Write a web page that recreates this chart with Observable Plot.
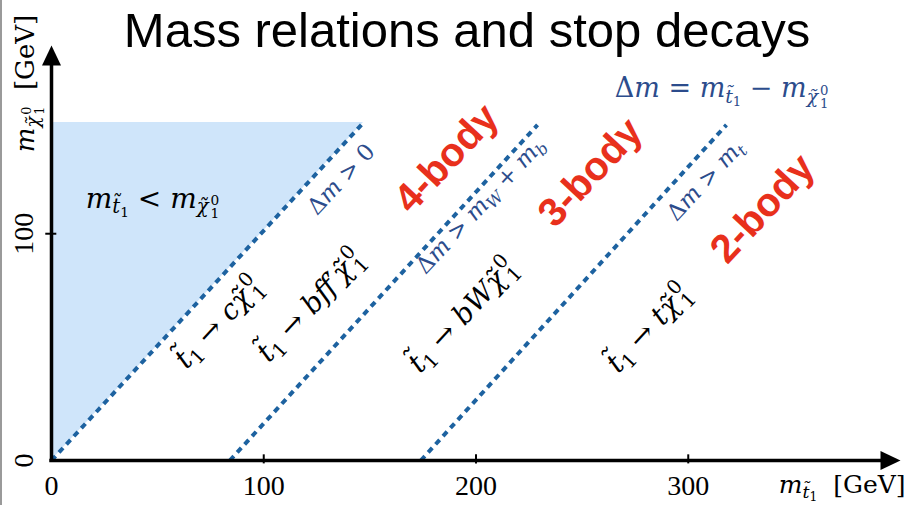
<!DOCTYPE html>
<html><head><meta charset="utf-8">
<script src="https://cdn.jsdelivr.net/npm/d3@7"></script>
<script src="https://cdn.jsdelivr.net/npm/@observablehq/plot@0.6"></script>
<style>
html,body{margin:0;padding:0;background:#fff;}
#wrap{position:relative;width:908px;height:505px;overflow:hidden;}
#title{position:absolute;left:467px;top:6px;transform:translateX(-50%);font-family:"Liberation Sans",Arial,sans-serif;font-size:49px;line-height:1;white-space:nowrap;color:#000;}
#edge{position:absolute;left:0;top:0;width:2px;height:505px;background:#9a9a9a;}
#chart svg text{white-space:pre;}
</style></head><body>
<div id="wrap"><div id="chart"></div><div id="title">Mass relations and stop decays</div><div id="edge"></div></div>
<script>
// ---- data (GeV) ----
const xTicks = [100, 200, 300];
const xTickLabels = [0, 100, 200, 300];
const yTicks = [100];
const yTickLabels = [0, 100];
const xMax = 400, yMax = 183;

// kinematic boundaries: m_chi = m_stop - threshold
const boundaryStartX = [0, 84, 174];
const boundaryEndX = [146, 229, 318];
const boundaryEndY = [148, 148, 148];
const boundaryText = ["Δm > 0", "Δm > m_{W} + m_{b}", "Δm > m_{t}"];
const boundaryLabelX = [136.5, 202.1, 308.1];
const boundaryLabelY = [124.0, 112.4, 123.5];

// forbidden region m_stop < m_chi
const forbiddenX = [0, 147];
const forbiddenY = [0, 149];

const decayText = ["t\u0303_{1} → cχ\u0303~{0}{1}", "t\u0303_{1} → bff′χ\u0303~{0}{1}", "t\u0303_{1} → bWχ\u0303~{0}{1}", "t\u0303_{1} → tχ\u0303~{0}{1}"];
const decayX = [78.7, 122.0, 193.6, 281.3];
const decayY = [60.8, 68.3, 63.9, 58.2];

const regimeText = ["4-body", "3-body", "2-body"];
const regimeX = [186.1, 253.9, 335.0];
const regimeY = [133.2, 127.0, 111.1];

const regionText = ["m_{t\u0303_{1}} < m_{χ\u0303~{0}{1}}"];
const regionX = [47.6], regionY = [115.5];

const defText = ["Δm = m_{t\u0303_{1}} − m_{χ\u0303~{0}{1}}"];
const defX = [315.7], defY = [164.0];

const xTitle = "m_{t\u0303_{1}}  #{[GeV]}";
const yTitle = "m_{χ\u0303~{0}{1}}  #{[GeV]}";

// ---- styles ----
const serif = "DejaVu Serif, Liberation Serif, serif";
const tickSerif = "Liberation Serif, DejaVu Serif, serif";
const sans = "Liberation Sans, Arial, sans-serif";
const shade = "#cfe5fa";
const dashColor = "#1d62a0";
const blueText = "#2c4c8c";
const red = "#e8301c";
const angle = -47;

const arrowUp = {draw(c){ c.moveTo(0,0); c.lineTo(-9.5,20); c.lineTo(9.5,20); c.closePath(); }};
const arrowRight = {draw(c){ c.moveTo(0,0); c.lineTo(-20,-9.5); c.lineTo(-20,9.5); c.closePath(); }};

const boundaries = boundaryStartX.map((x, i) => ({x1: x, y1: 0, x2: boundaryEndX[i], y2: boundaryEndY[i]}));
const forbidden = forbiddenX.map((x, i) => ({x, y: forbiddenY[i]}));
const zip = (t, xs, ys) => t.map((text, i) => ({text, x: xs[i], y: ys[i]}));

const plot = Plot.plot({
  width: 908, height: 505,
  marginLeft: 51, marginRight: 8, marginTop: 45, marginBottom: 45,
  x: {domain: [0, xMax], axis: null},
  y: {domain: [0, yMax], axis: null},
  style: {background: "transparent", overflow: "visible"},
  marks: [
    Plot.areaX(forbidden, {y: "y", x1: 0, x2: "x", fill: shade}),
    Plot.link(boundaries, {x1: "x1", y1: "y1", x2: "x2", y2: "y2", stroke: dashColor, strokeWidth: 4, strokeDasharray: "6,5"}),
    Plot.ruleY([0], {x1: -0.8, x2: xMax - 8, stroke: "black", strokeWidth: 3.5}),
    Plot.ruleX([0], {y1: -0.8, y2: yMax - 7, stroke: "black", strokeWidth: 3.5}),
    Plot.dot([{x: xMax, y: 0}], {x: "x", y: "y", symbol: arrowRight, fill: "black", stroke: "none"}),
    Plot.dot([{x: 0, y: yMax}], {x: "x", y: "y", symbol: arrowUp, fill: "black", stroke: "none"}),
    Plot.ruleX(xTicks, {x: d => d, y1: -1.5, y2: 2.5, stroke: "black", strokeWidth: 2}),
    Plot.ruleY(yTicks, {y: d => d, x1: -2.7, x2: 2.5, stroke: "black", strokeWidth: 2}),
    Plot.text(xTickLabels, {x: d => d, y: 0, dy: 26, text: d => `${d}`, fontSize: 28, fontFamily: tickSerif, fill: "black"}),
    Plot.text(yTickLabels, {x: 0, y: d => d, dx: -27, rotate: -90, text: d => `${d}`, fontSize: 28, fontFamily: tickSerif, fill: "black"}),
    Plot.text([xTitle], {x: xMax, y: 0, dx: 5, dy: 24, textAnchor: "end", text: d => d, fontSize: 25, fontFamily: serif, fill: "black"}),
    Plot.text([yTitle], {x: 0, y: yMax, dx: -26, dy: 38, rotate: -90, text: d => d, fontSize: 26, fontFamily: serif, fill: "black"}),
    Plot.text(zip(regionText, regionX, regionY), {x: "x", y: "y", text: "text", fontSize: 28, fontFamily: serif, fill: "black"}),
    Plot.text(zip(defText, defX, defY), {x: "x", y: "y", text: "text", fontSize: 27, fontFamily: serif, fill: blueText}),
    Plot.text(zip(boundaryText, boundaryLabelX, boundaryLabelY), {x: "x", y: "y", text: "text", rotate: angle, fontSize: 23, fontFamily: serif, fill: blueText}),
    Plot.text(zip(decayText, decayX, decayY), {x: "x", y: "y", text: "text", rotate: angle, fontSize: 28, fontFamily: serif, fill: "black"}),
    Plot.text(zip(regimeText, regimeX, regimeY), {x: "x", y: "y", text: "text", rotate: angle, fontSize: 40, fontWeight: "bold", fontFamily: sans, fill: red})
  ]
});
document.getElementById("chart").append(plot);

// ---- render simple math markup as tspans ----
function parseMarkup(s){
  let i = 0;
  function group(){
    const nodes = []; let buf = "";
    const flush = () => { if (buf) { nodes.push({type: "t", text: buf}); buf = ""; } };
    while (i < s.length){
      const c = s[i];
      if (c === "}") { i++; break; }
      if ((c === "_" || c === "^" || c === "#") && s[i+1] === "{") { flush(); i += 2; nodes.push({type: c, kids: group()}); continue; }
      if (c === "~" && s[i+1] === "{") { flush(); i += 2; const sup = group(); if (s[i] === "{") i++; const sub = group(); nodes.push({type: "~", sup, sub}); continue; }
      buf += c; i++;
    }
    flush(); return nodes;
  }
  return group();
}
function layout(nodes, size, shift, roman, runs){
  for (const n of nodes){
    if (n.type === "t"){
      if (roman) { runs.push({text: n.text, size, shift, italic: false}); continue; }
      const re = /(?:[A-Za-zχ]\u0303?)+/g; let last = 0, m;
      while ((m = re.exec(n.text))){
        if (m.index > last) runs.push({text: n.text.slice(last, m.index), size, shift, italic: false});
        runs.push({text: m[0], size, shift, italic: true});
        last = m.index + m[0].length;
      }
      if (last < n.text.length) runs.push({text: n.text.slice(last), size, shift, italic: false});
    } else if (n.type === "_") layout(n.kids, size * 0.7, shift + size * 0.2, roman, runs);
    else if (n.type === "^") layout(n.kids, size * 0.7, shift - size * 0.4, roman, runs);
    else if (n.type === "#") layout(n.kids, size, shift, true, runs);
    else if (n.type === "~"){
      const start = runs.length;
      layout(n.sup, size * 0.7, shift - size * 0.42, roman, runs);
      if (runs[start]) runs[start].pad = size * 0.1;
      const nSup = runs.length - start;
      const subStart = runs.length;
      layout(n.sub, size * 0.7, shift + size * 0.26, roman, runs);
      if (runs[subStart]) runs[subStart].back = nSup;
    }
  }
  return runs;
}
const ns = "http://www.w3.org/2000/svg";
plot.querySelectorAll("text").forEach(t => {
  const s = t.textContent;
  if (!/[_^~#]\{|[Δ→]/.test(s)) return;
  const fs = parseFloat(getComputedStyle(t).fontSize);
  const runs = layout(parseMarkup(s), fs, 0, false, []);
  t.textContent = "";
  t.setAttribute("xml:space", "preserve");
  let prev = 0; const made = [];
  runs.forEach((r, k) => {
    const ts = document.createElementNS(ns, "tspan");
    ts.textContent = r.text;
    ts.setAttribute("font-size", r.size.toFixed(2));
    if (r.italic) ts.setAttribute("font-style", "italic");
    const dy = r.shift - prev;
    if (Math.abs(dy) > 1e-6) ts.setAttribute("dy", dy.toFixed(2));
    prev = r.shift;
    if (r.pad) ts.setAttribute("dx", r.pad.toFixed(2));
    t.appendChild(ts);
    if (r.back){ let w = 0; for (let j = 1; j <= r.back; j++) w += made[k - j].getComputedTextLength(); ts.setAttribute("dx", (-w).toFixed(2)); }
    made.push(ts);
  });
});
</script></body></html>
